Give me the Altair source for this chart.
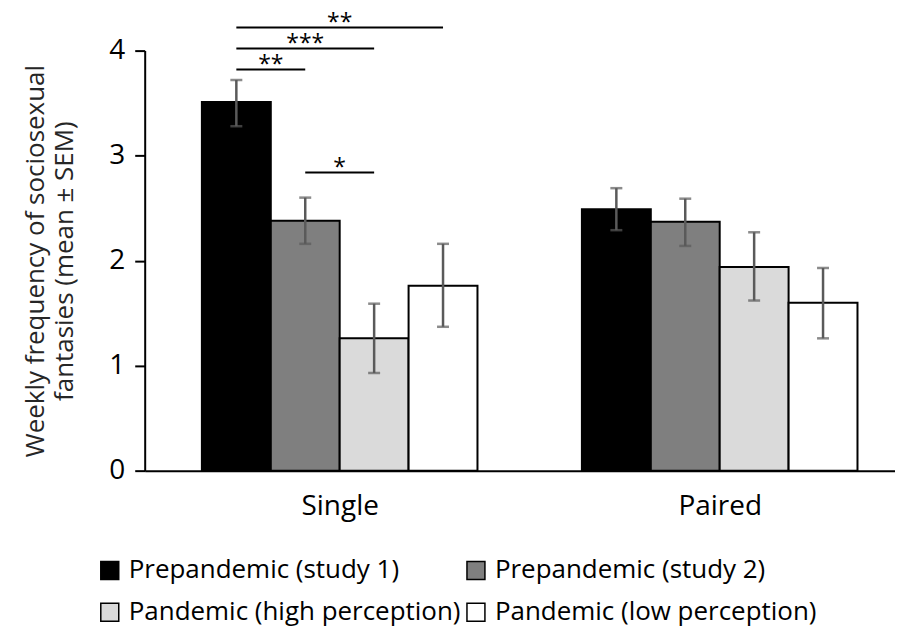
import altair as alt
import pandas as pd

# ---- data ----
groups = ["Single", "Paired"]
series = ["Prepandemic (study 1)", "Prepandemic (study 2)",
          "Pandemic (high perception)", "Pandemic (low perception)"]
colors = ["#000000", "#7f7f7f", "#dadada", "#ffffff"]

single_mean = [3.51, 2.38, 1.26, 1.76]
single_low = [3.28, 2.16, 0.93, 1.37]
single_high = [3.72, 2.60, 1.59, 2.16]

paired_mean = [2.49, 2.37, 1.94, 1.60]
paired_low = [2.29, 2.14, 1.62, 1.26]
paired_high = [2.69, 2.59, 2.27, 1.93]

# significance brackets within "Single": (from series idx, to series idx, level, label)
sig_from = [0, 0, 0, 1]
sig_to = [3, 2, 1, 2]
sig_level = [4.22, 4.02, 3.82, 2.84]
sig_label = ["**", "***", "**", "*"]

y_ticks = [0, 1, 2, 3, 4]

# ---- layout helpers ----
BAR_W = 0.1813  # bar width in category units


def pos(g, s):
    return g + (s - 1.5) * BAR_W


rows = []
for gi, (m, lo, hi) in enumerate([(single_mean, single_low, single_high),
                                   (paired_mean, paired_low, paired_high)]):
    for si, name in enumerate(series):
        c = pos(gi, si)
        rows.append({"group": groups[gi], "series": name, "order": si,
                     "xc": c, "x0": c - BAR_W / 2, "x1": c + BAR_W / 2,
                     "mean": m[si], "low": lo[si], "high": hi[si]})
df = pd.DataFrame(rows)

sig = pd.DataFrame({
    "xa": [pos(0, a) for a in sig_from],
    "xb": [pos(0, b) for b in sig_to],
    "level": sig_level,
    "label": sig_label,
})
sig["xm"] = (sig["xa"] + sig["xb"]) / 2

FONT = "Open Sans"
W = 752
H = 421
STEP = 386.0
xdom = [-0.5, W / STEP - 0.5]

xscale = alt.Scale(domain=xdom, nice=False, zero=False)
yscale = alt.Scale(domain=[0, 4], nice=False)

label_expr = "[" + ",".join("'" + g + "'" for g in groups) + "][datum.value]"

bars = alt.Chart(df).mark_bar(stroke="black", strokeWidth=2, orient="vertical").encode(
    x=alt.X("x0:Q", scale=xscale,
            axis=alt.Axis(values=[0, 1], labelExpr=label_expr, title=None,
                          ticks=False, tickSize=0, grid=False, domain=True,
                          domainColor="black", domainWidth=2,
                          labelFont=FONT, labelFontSize=28, labelColor="black",
                          labelPadding=22)),
    x2="x1:Q",
    y=alt.Y("mean:Q", scale=yscale,
            axis=alt.Axis(values=y_ticks, grid=False, format="d",
                          title=["Weekly frequency of sociosexual",
                                 "fantasies (mean \u00b1 SEM)"],
                          titleFont=FONT, titleFontSize=26, titleFontWeight="normal",
                          titleColor="#262626", titleLineHeight=29, titlePadding=31,
                          labelFont=FONT, labelFontSize=28, labelColor="black",
                          labelPadding=10, tickSize=10, tickColor="black",
                          tickWidth=2, domainColor="black", domainWidth=2)),
    y2=alt.datum(0),
    color=alt.Color("series:N",
                    scale=alt.Scale(domain=series, range=colors),
                    legend=alt.Legend(title=None, orient="none", direction="horizontal",
                                      columns=2, legendX=-48, legendY=508,
                                      symbolType="square", symbolSize=324,
                                      symbolStrokeColor="black", symbolStrokeWidth=1.5,
                                      labelFont=FONT, labelFontSize=26,
                                      labelColor="black", labelOffset=6,
                                      columnPadding=2, rowPadding=16, padding=0,
                                      labelLimit=500)),
    order="order:Q",
)

err = alt.Chart(df).mark_rule(color="#5a5a5a", strokeWidth=2.5).encode(
    x=alt.X("xc:Q", scale=xscale), y=alt.Y("low:Q", scale=yscale), y2="high:Q")

cap_lo = alt.Chart(df).mark_tick(color="#5a5a5a", thickness=2.5, size=12,
                                 orient="horizontal").encode(
    x=alt.X("xc:Q", scale=xscale), y=alt.Y("low:Q", scale=yscale))
cap_hi = alt.Chart(df).mark_tick(color="#5a5a5a", thickness=2.5, size=12,
                                 orient="horizontal").encode(
    x=alt.X("xc:Q", scale=xscale), y=alt.Y("high:Q", scale=yscale))

sig_lines = alt.Chart(sig).mark_rule(color="black", strokeWidth=2).encode(
    x=alt.X("xa:Q", scale=xscale), x2="xb:Q", y=alt.Y("level:Q", scale=yscale))

sig_text = alt.Chart(sig).mark_text(font=FONT, fontSize=23, color="black",
                                    baseline="alphabetic", dy=3).encode(
    x=alt.X("xm:Q", scale=xscale), y=alt.Y("level:Q", scale=yscale), text="label:N")

chart = alt.layer(bars, err, cap_lo, cap_hi, sig_lines, sig_text).properties(
    width=W, height=H,
    autosize=alt.AutoSizeParams(type="none"),
    padding={"left": 137, "top": 42, "right": 0, "bottom": 157},
).configure(background="white").configure_view(stroke=None)

chart.save("out.html", embed_options={"renderer": "svg", "actions": False})
